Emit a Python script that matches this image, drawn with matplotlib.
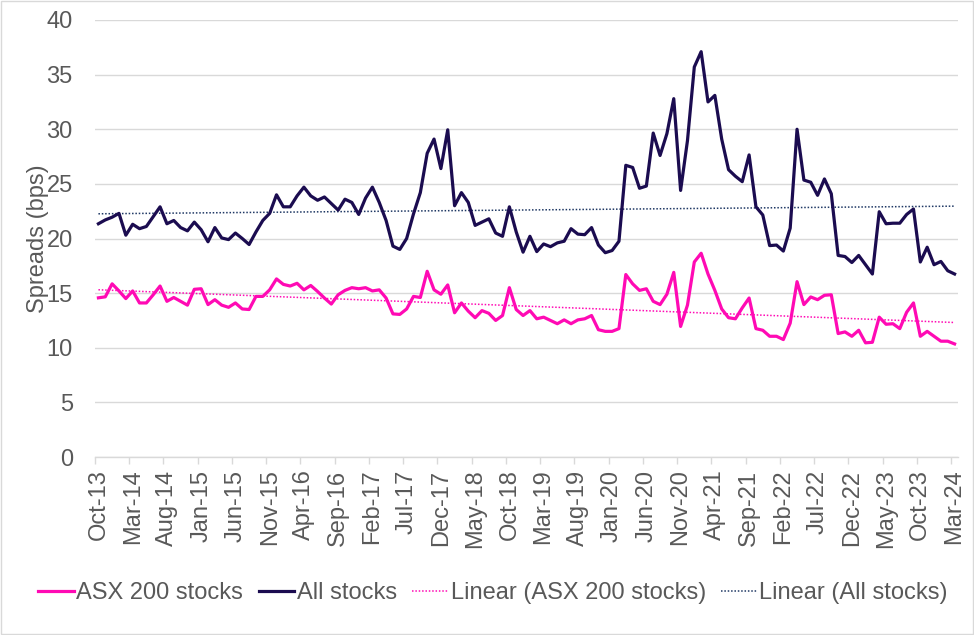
import numpy as np
import pandas as pd
import matplotlib
matplotlib.use("Agg")
import matplotlib.pyplot as plt
from matplotlib.patches import Rectangle

# ---- data ----
months = pd.date_range("2013-10-01", "2024-03-01", freq="MS")

asx200 = [
    14.57, 14.66, 15.85, 15.2, 14.5, 15.2, 14.1, 14.1, 14.85, 15.65,
    14.25, 14.6, 14.25, 13.9, 15.35, 15.4, 13.95, 14.4, 13.9, 13.7,
    14.1, 13.55, 13.5, 14.7, 14.7, 15.3, 16.3, 15.8, 15.65, 15.9,
    15.3, 15.7, 15.15, 14.55, 14.0, 14.85, 15.25, 15.5, 15.4, 15.5,
    15.2, 15.3, 14.55, 13.1, 13.05, 13.55, 14.7, 14.6, 17.0, 15.3,
    14.9, 15.75, 13.2, 14.1, 13.35, 12.75, 13.4, 13.15, 12.5, 12.95,
    15.5, 13.5, 12.95, 13.4, 12.65, 12.8, 12.5, 12.2, 12.55, 12.2,
    12.55, 12.65, 12.95, 11.65, 11.5, 11.5, 11.75, 16.7, 15.85, 15.25,
    15.4, 14.25, 13.95, 14.9, 16.9, 11.95, 13.9, 17.85, 18.65, 16.75,
    15.25, 13.55, 12.75, 12.65, 13.65, 14.55, 11.75, 11.6, 11.05, 11.05,
    10.75, 12.25, 16.05, 13.95, 14.65, 14.4, 14.8, 14.85, 11.3, 11.45,
    11.05, 11.6, 10.45, 10.5, 12.8, 12.15, 12.2, 11.75, 13.25, 14.1,
    11.05, 11.5, 11.05, 10.6, 10.6, 10.35,
]

all_stocks = [
    21.35, 21.7, 21.95, 22.3, 20.3, 21.3, 20.9, 21.1, 22.0, 22.9,
    21.35, 21.65, 21.0, 20.7, 21.5, 20.8, 19.7, 21.0, 20.05, 19.9,
    20.5, 20.0, 19.45, 20.6, 21.65, 22.3, 24.0, 22.9, 22.9, 23.9,
    24.7, 23.9, 23.5, 23.8, 23.2, 22.6, 23.6, 23.3, 22.2, 23.7,
    24.7, 23.3, 21.65, 19.3, 19.0, 20.0, 22.25, 24.2, 27.8, 29.1,
    26.4, 29.95, 23.0, 24.2, 23.3, 21.2, 21.5, 21.8, 20.5, 20.2,
    22.9, 20.6, 18.75, 20.2, 18.8, 19.5, 19.25, 19.6, 19.75, 20.9,
    20.4, 20.35, 21.0, 19.4, 18.7, 18.9, 19.75, 26.7, 26.5, 24.6,
    24.8, 29.65, 27.6, 29.6, 32.8, 24.4, 28.95, 35.7, 37.1, 32.5,
    33.1, 29.1, 26.3, 25.7, 25.2, 27.65, 22.9, 22.15, 19.35, 19.4,
    18.85, 20.95, 30.0, 25.35, 25.15, 23.95, 25.45, 24.1, 18.45, 18.35,
    17.8, 18.45, 17.6, 16.75, 22.45, 21.35, 21.4, 21.4, 22.2, 22.7,
    17.85, 19.2, 17.6, 17.9, 17.05, 16.75,
]

tick_labels = [
    "Oct-13", "Mar-14", "Aug-14", "Jan-15", "Jun-15", "Nov-15", "Apr-16",
    "Sep-16", "Feb-17", "Jul-17", "Dec-17", "May-18", "Oct-18", "Mar-19",
    "Aug-19", "Jan-20", "Jun-20", "Nov-20", "Apr-21", "Sep-21", "Feb-22",
    "Jul-22", "Dec-22", "May-23", "Oct-23", "Mar-24",
]

series_names = ["ASX 200 stocks", "All stocks",
                "Linear (ASX 200 stocks)", "Linear (All stocks)"]

# ---- style ----
PINK = "#FF0AB4"
NAVY = "#1B0C50"
TEXT = "#595959"
GRID = "#D9D9D9"
plt.rcParams["font.family"] = ["Liberation Sans", "DejaVu Sans"]
FS = 17

fig = plt.figure(figsize=(9.74, 6.35), dpi=100)
ax = fig.add_axes([95 / 974, 1 - 457 / 635, (958 - 95) / 974, (457 - 20) / 635])

x = np.arange(len(months))
asx = np.array(asx200)
alls = np.array(all_stocks)

l1, = ax.plot(x, asx, color=PINK, lw=2.3, solid_joinstyle="round", zorder=4)
l2, = ax.plot(x, alls, color=NAVY, lw=2.3, solid_joinstyle="round", zorder=4)

# linear trendlines (least squares, like Excel)
p1 = np.polyfit(x, asx, 1)
p2 = np.polyfit(x, alls, 1)
l3, = ax.plot(x, np.polyval(p1, x), color=PINK, lw=1.1, ls=(0, (1, 1.2)), zorder=3)
l4, = ax.plot(x, np.polyval(p2, x), color="#1F3864", lw=1.1, ls=(0, (1, 1.2)), zorder=3)

ax.set_xlim(-0.5, len(x) - 0.5)
ax.set_ylim(0, 40)
ax.set_yticks(np.arange(0, 41, 5))
ax.yaxis.grid(True, color=GRID, lw=1.0)
ax.set_axisbelow(True)

for s in ["top", "right", "left"]:
    ax.spines[s].set_visible(False)
ax.spines["bottom"].set_color(GRID)
ax.spines["bottom"].set_linewidth(1.0)

tick_pos = np.arange(0, len(x), 5)
ax.set_xticks(tick_pos)
ax.set_xticklabels(tick_labels, rotation=90, fontsize=FS, color=TEXT)
ax.set_xticks(tick_pos - 0.5, minor=True)
ax.tick_params(axis="x", which="major", length=0, pad=9)
ax.tick_params(axis="x", which="minor", length=5, width=1.0, color=GRID, direction="out")
ax.tick_params(axis="y", length=0, pad=16, labelsize=FS, labelcolor=TEXT)

ax.set_ylabel("Spreads (bps)", fontsize=FS, color=TEXT, labelpad=-1.5)

fig.legend([l1, l2, l3, l4], series_names, loc="center",
           bbox_to_anchor=(493 / 974, 1 - 593 / 635), ncol=4, frameon=False,
           fontsize=FS, labelcolor=TEXT, handlelength=1.5, handletextpad=0.12,
           columnspacing=0.65, borderaxespad=0)

fig.patches.append(Rectangle((0.001, 0.001), 0.998, 0.998, transform=fig.transFigure,
                             fill=False, edgecolor=GRID, lw=1.0))

fig.savefig("out.png", dpi=100)
